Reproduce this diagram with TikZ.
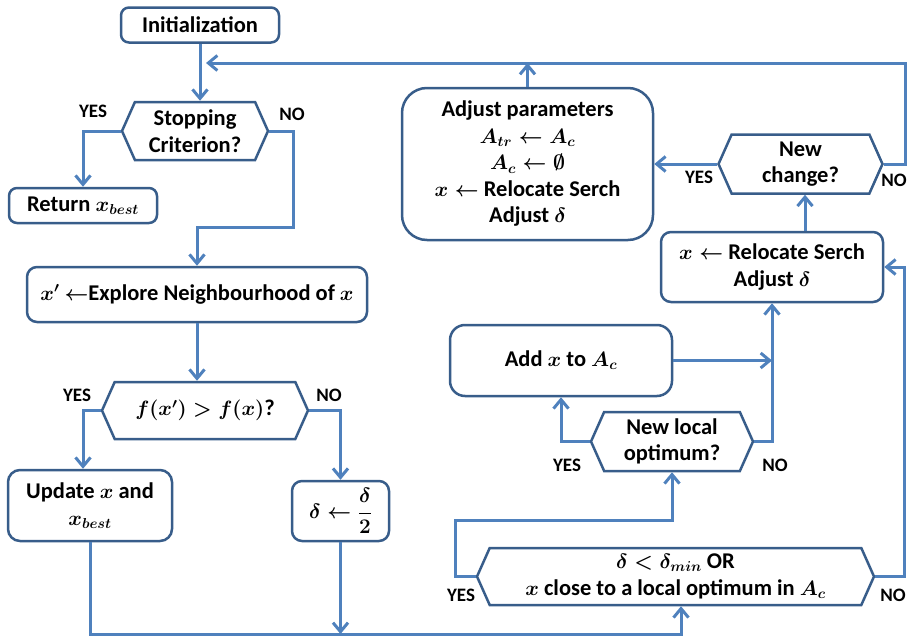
\documentclass[tikz,border=0pt]{standalone}
\usepackage{fontspec}
\setmainfont{Carlito}
\usepackage{amsmath}
\usetikzlibrary{shapes.symbols,arrows.meta}
\definecolor{lineblue}{HTML}{4F81BD}
\definecolor{edgeblue}{HTML}{385D8A}

\begin{document}
\begin{tikzpicture}[x=1pt,y=-1pt,
  box/.style={draw=edgeblue,line width=2.5pt,fill=white,rounded corners=8pt,inner sep=0pt,align=center,
    font=\fontsize{22.5}{26.5}\selectfont\bfseries\boldmath},
  test/.style={box,sharp corners,signal,signal to=west and east,signal pointer angle=132},
  flow/.style={draw=lineblue,line width=3pt,-{Straight Barb[length=9pt,width=15pt]}},
  answer/.style={font=\fontsize{19}{22}\selectfont\bfseries}]
  \useasboundingbox (0,0) rectangle (908,637);
  % left column
  \node[box,minimum width=158pt,minimum height=35pt] (init) at (200,25) {Initialization};
  \node[test,minimum width=146pt,minimum height=58pt] (stop) at (195,131) {Stopping\\Criterion?};
  \node[box,minimum width=148pt,minimum height=35pt] (ret) at (83,205.5) {Return $x_{best}$};
  \node[box,minimum width=340pt,minimum height=55pt,rounded corners=10pt] (expl) at (197,294.5) {$x'$ $\leftarrow$Explore Neighbourhood of $x$};
  \node[test,minimum width=206pt,minimum height=57pt] (fcmp) at (205,410.5) {$f(x')>f(x)$?};
  \node[box,minimum width=164pt,minimum height=71pt,rounded corners=12pt] (upd) at (90,505.5) {Update $x$ and\\$x_{best}$};
  \node[box,minimum width=97pt,minimum height=60pt,rounded corners=10pt] (half) at (340.5,511) {$\delta\leftarrow\dfrac{\delta}{2}$};
  % right column
  \node[box,minimum width=251pt,minimum height=152pt,rounded corners=25pt] (adj) at (527.5,164) {Adjust parameters\\$A_{tr}\leftarrow A_c$\\$A_c\leftarrow\emptyset$\\$x\leftarrow$ Relocate Serch\\Adjust $\delta$};
  \node[test,minimum width=164pt,minimum height=59pt] (newch) at (800.5,164) {New\\change?};
  \node[box,minimum width=222pt,minimum height=70pt,rounded corners=10pt] (reloc) at (772,267) {$x\leftarrow$ Relocate Serch\\Adjust $\delta$};
  \node[box,minimum width=222pt,minimum height=71pt,rounded corners=15pt] (addx) at (561,360.5) {Add $x$ to $A_c$};
  \node[test,minimum width=162pt,minimum height=59pt] (newloc) at (672,441.5) {New local\\optimum?};
  \node[test,minimum width=397pt,minimum height=57pt] (bighex) at (675.5,576.5) {$\delta<\delta_{min}$ OR\\$x$ close to a local optimum in $A_c$};
  \coordinate (loopin) at (200,63);
  \coordinate (bottom) at (681,634);
  % connectors
  \draw[flow] (init) -- (init.south |- stop.north);
  \draw[flow] (newch.east) -| (905,63) -- ([xshift=6pt]loopin);
  \draw[flow] (adj.north) -- (adj.north |- loopin);
  \draw[flow] (stop.west) -| (ret.north);
  \draw[flow] (stop.east) -| (293,227) -| (expl.north);
  \draw[flow] (expl.south) -- (expl.south |- fcmp.north);
  \draw[flow] (fcmp.west) -| ([xshift=-7pt]upd.north);
  \draw[flow] (fcmp.east) -| (half.north);
  \draw[flow] (upd.south) |- (bottom) -- (bottom |- bighex.south);
  \draw[flow] (half.south) -- (half.south |- bottom);
  \draw[flow] (bighex.west) -| (455,520) -| (newloc.south);
  \draw[flow] (bighex.east) -| ([xshift=20pt]reloc.east) -- (reloc.east);
  \draw[flow] (newloc.west) -| (addx.south);
  \draw[flow] (newloc.east) -| (reloc.south);
  \draw[flow] (addx.east) -- (addx.east -| reloc.south);
  \draw[flow] ([xshift=33pt]reloc.north) -- ([xshift=33pt]reloc.north |- newch.south);
  \draw[flow] (newch.west) -- (adj.east);
  % YES / NO
  \node[answer] (yes1) at (93,111) {YES};
  \node[answer] (no1) at (292,114) {NO};
  \node[answer] (yes2) at (77,395) {YES};
  \node[answer] (no2) at (329,395) {NO};
  \node[answer] (yes3) at (567,465) {YES};
  \node[answer] (no3) at (775,465) {NO};
  \node[answer] (yes4) at (461,595) {YES};
  \node[answer] (no4) at (893,595) {NO};
  \node[answer] (yes5) at (699,177) {YES};
  \node[answer] (no5) at (894,180) {NO};
\end{tikzpicture}
\end{document}
